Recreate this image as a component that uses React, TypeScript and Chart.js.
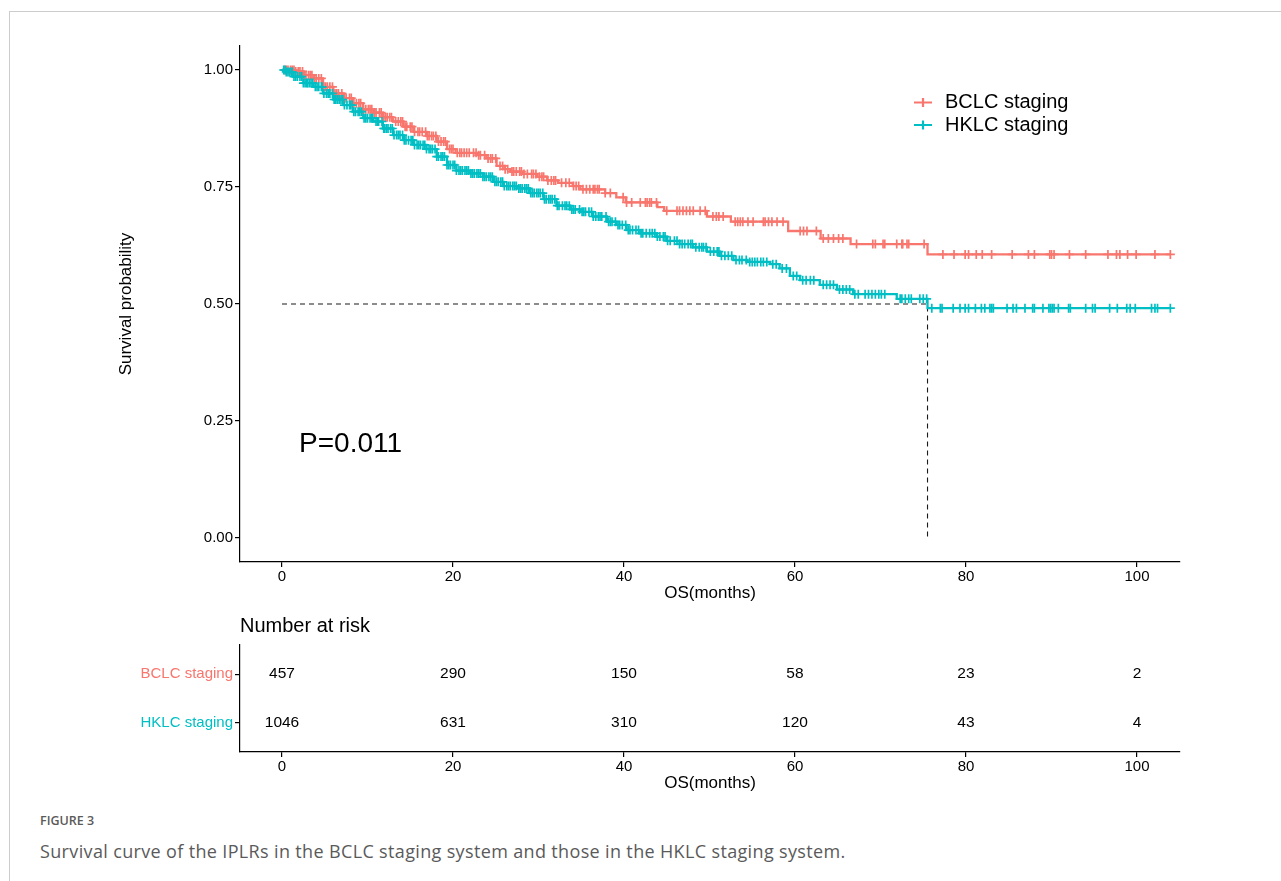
import React, { useEffect, useRef } from "react";
import { Chart, registerables } from "chart.js";

Chart.register(...registerables);

const FONT = '"Liberation Sans", Arial, Helvetica, sans-serif';
const RED = "#F8766D";
const TEAL = "#00BFC4";

// ---------- data ----------
const seriesNames = ["BCLC staging", "HKLC staging"];

const bclcTimes = [0, 1.5, 2.5, 3.7, 4.8, 6.0, 7.2, 8.3, 9.5, 10.7, 11.8, 13.0, 14.2, 15.4, 16.9, 18.1, 19.3, 20.3, 22.8, 23.9, 25.1, 26.0, 26.7, 28.2, 29.8, 31.0, 32.3, 34.0, 34.9, 37.8, 39.1, 40.2, 43.9, 44.7, 49.7, 52.5, 59.2, 63.0, 66.5, 75.5, 103.9];
const bclcSurv = [1.0, 0.997, 0.989, 0.982, 0.964, 0.95, 0.94, 0.929, 0.916, 0.909, 0.899, 0.89, 0.879, 0.868, 0.859, 0.847, 0.831, 0.823, 0.818, 0.811, 0.795, 0.788, 0.783, 0.778, 0.772, 0.764, 0.759, 0.752, 0.745, 0.737, 0.728, 0.717, 0.707, 0.699, 0.687, 0.676, 0.656, 0.64, 0.628, 0.606, 0.606];

const hklcTimes = [0, 0.5, 1.3, 2.5, 3.7, 4.8, 6.0, 7.2, 8.3, 9.5, 10.7, 11.8, 13.0, 14.2, 15.4, 16.9, 18.1, 19.3, 20.4, 22.0, 23.5, 24.7, 25.9, 27.5, 29.0, 30.6, 32.1, 33.7, 34.9, 36.4, 38.0, 39.1, 40.3, 41.9, 43.8, 45.0, 46.5, 48.1, 49.7, 51.2, 52.8, 54.4, 57.1, 58.2, 59.4, 60.6, 62.9, 64.9, 66.8, 71.9, 75.5, 103.9];
const hklcSurv = [1.0, 0.996, 0.986, 0.972, 0.964, 0.95, 0.937, 0.925, 0.911, 0.897, 0.89, 0.875, 0.861, 0.85, 0.84, 0.831, 0.815, 0.797, 0.785, 0.779, 0.772, 0.761, 0.752, 0.747, 0.737, 0.724, 0.71, 0.702, 0.697, 0.687, 0.676, 0.669, 0.658, 0.651, 0.644, 0.635, 0.628, 0.621, 0.612, 0.603, 0.594, 0.59, 0.585, 0.576, 0.56, 0.551, 0.541, 0.531, 0.521, 0.511, 0.491, 0.491];

const bclcCensor = [0.3, 0.5, 0.7, 1.0, 1.2, 1.4, 1.6, 1.9, 2.1, 2.4, 2.6, 2.8, 3.1, 3.3, 3.5, 3.8, 4.0, 4.3, 4.6, 4.9, 5.1, 5.3, 5.6, 5.9, 6.2, 6.4, 6.6, 7.0, 7.3, 7.5, 7.9, 8.1, 8.4, 8.7, 9.0, 9.2, 9.5, 9.8, 10.1, 10.3, 10.5, 10.8, 11.0, 11.4, 11.6, 11.9, 12.1, 12.3, 12.6, 12.8, 13.3, 13.6, 13.9, 14.1, 14.4, 14.6, 15.0, 15.2, 15.5, 15.9, 16.1, 16.4, 16.8, 17.0, 17.2, 17.5, 17.7, 18.0, 18.3, 18.6, 18.9, 19.1, 19.6, 19.8, 20.0, 20.5, 20.8, 21.0, 21.3, 21.6, 21.9, 22.4, 22.7, 23.0, 23.2, 23.7, 24.1, 24.4, 24.6, 25.0, 25.5, 25.8, 26.1, 26.4, 26.9, 27.1, 27.4, 27.8, 28.0, 28.3, 28.7, 29.2, 29.4, 29.7, 30.1, 30.4, 30.6, 31.1, 31.5, 31.8, 32.0, 32.7, 33.2, 33.6, 34.1, 34.4, 34.7, 35.2, 35.6, 36.0, 36.4, 36.6, 36.9, 37.1, 37.8, 38.4, 39.9, 40.3, 40.9, 41.9, 42.5, 42.7, 43.0, 43.2, 43.8, 45.0, 46.2, 46.5, 46.9, 47.3, 47.7, 48.1, 48.9, 49.5, 50.4, 50.8, 51.1, 51.6, 53.0, 53.3, 53.6, 53.9, 54.5, 55.1, 56.3, 56.5, 56.9, 57.3, 57.9, 58.6, 60.6, 61.0, 61.4, 62.5, 63.3, 63.9, 64.5, 65.1, 65.6, 67.2, 69.1, 69.4, 70.3, 70.5, 71.9, 72.5, 72.6, 73.1, 73.3, 75.1, 77.3, 78.6, 79.9, 80.3, 81.2, 81.9, 83.0, 85.4, 87.3, 88.0, 89.8, 90.0, 90.3, 92.1, 94.0, 96.6, 97.6, 98.0, 98.9, 99.9, 102.1, 103.9];

const hklcCensor = [0.2, 0.4, 0.5, 0.7, 0.9, 1.1, 1.2, 1.4, 1.6, 1.8, 2.1, 2.3, 2.5, 2.7, 2.9, 3.0, 3.2, 3.4, 3.6, 3.9, 4.1, 4.3, 4.6, 4.7, 4.9, 5.2, 5.4, 5.6, 5.9, 6.1, 6.3, 6.5, 6.7, 6.9, 7.1, 7.3, 7.6, 7.9, 8.0, 8.2, 8.4, 8.6, 8.9, 9.1, 9.3, 9.6, 9.8, 10.0, 10.3, 10.5, 10.6, 11.0, 11.2, 11.3, 11.7, 11.9, 12.0, 12.2, 12.4, 12.7, 12.9, 13.1, 13.4, 13.6, 13.8, 14.1, 14.3, 14.5, 14.8, 15.1, 15.3, 15.5, 15.8, 16.0, 16.2, 16.5, 16.7, 16.9, 17.2, 17.4, 17.6, 17.9, 18.1, 18.3, 18.6, 18.8, 19.0, 19.3, 19.5, 19.7, 20.0, 20.2, 20.4, 20.7, 20.9, 21.1, 21.4, 21.6, 21.8, 22.1, 22.3, 22.5, 22.8, 23.0, 23.2, 23.5, 23.7, 23.9, 24.2, 24.4, 24.6, 24.9, 25.1, 25.3, 25.6, 25.8, 26.0, 26.3, 26.5, 26.7, 27.0, 27.2, 27.4, 27.7, 27.9, 28.1, 28.4, 28.6, 28.8, 29.1, 29.3, 29.5, 29.8, 30.0, 30.2, 30.5, 30.7, 30.9, 31.2, 31.4, 31.6, 31.9, 32.2, 32.4, 32.8, 33.1, 33.3, 33.6, 33.9, 34.1, 34.3, 34.8, 35.1, 35.3, 35.5, 35.9, 36.2, 36.4, 36.7, 37.0, 37.2, 37.4, 37.9, 38.2, 38.4, 38.6, 39.0, 39.3, 39.5, 39.8, 40.2, 40.5, 40.7, 41.0, 41.4, 41.7, 42.0, 42.2, 42.6, 43.0, 43.3, 43.6, 43.9, 44.2, 44.6, 44.8, 45.1, 45.4, 45.9, 46.2, 46.5, 46.8, 47.1, 47.5, 47.8, 48.0, 48.4, 48.8, 49.1, 49.3, 49.6, 50.1, 50.5, 50.9, 51.1, 51.4, 51.8, 52.2, 52.6, 53.1, 53.5, 53.8, 54.3, 54.7, 55.0, 55.3, 55.6, 56.0, 56.3, 56.7, 57.4, 57.8, 58.5, 59.0, 59.8, 60.2, 60.9, 61.3, 61.8, 62.2, 63.3, 63.7, 64.1, 64.5, 65.2, 65.6, 66.0, 66.4, 67.0, 67.4, 68.2, 68.6, 69.0, 69.4, 69.8, 70.1, 70.5, 72.3, 72.5, 72.9, 73.3, 73.6, 74.6, 75.0, 75.4, 76.0, 77.0, 77.2, 78.5, 79.3, 79.9, 80.3, 81.1, 81.8, 82.2, 82.8, 83.0, 83.2, 84.8, 85.5, 85.9, 86.9, 87.8, 88.0, 89.0, 89.7, 89.9, 90.1, 90.3, 90.8, 92.0, 92.2, 94.0, 94.8, 95.1, 96.8, 97.7, 98.8, 99.2, 99.8, 101.7, 102.1, 102.4, 103.9];

const xTicks = [0, 20, 40, 60, 80, 100];
const yTicks = [0, 0.25, 0.5, 0.75, 1.0];
const riskTimes = [0, 20, 40, 60, 80, 100];
const bclcRisk = [457, 290, 150, 58, 23, 2];
const hklcRisk = [1046, 631, 310, 120, 43, 4];
const medianTime = 75.5;
const medianSurv = 0.5;
const pValueText = "P=0.011";

// ---------- helpers ----------
const X_MIN = -4.912;
const X_MAX = 105.03;

function survAt(times: number[], surv: number[], t: number) {
  let v = surv[0];
  for (let i = 0; i < times.length; i++) {
    if (times[i] <= t) v = surv[i];
    else break;
  }
  return v;
}

const tickFont = { family: FONT, size: 15 };
const titleFont = { family: FONT, size: 17 };

function xScaleOpts() {
  return {
    type: "linear" as const,
    min: X_MIN,
    max: X_MAX,
    afterBuildTicks: (s: any) => {
      s.ticks = xTicks.map((v) => ({ value: v }));
    },
    afterFit: (s: any) => {
      s.height = 48;
    },
    border: { display: true, color: "#000", width: 1.2 },
    grid: { drawOnChartArea: false, drawTicks: true, tickLength: 5, color: "#000", lineWidth: 1.2 },
    ticks: { font: tickFont, color: "#000", padding: 1, maxRotation: 0, autoSkip: false, callback: (v: any) => String(v) },
    title: { display: true, text: "OS(months)", font: titleFont, color: "#000", padding: { top: 0, bottom: 6.8 } },
  };
}

const mainOverlay = {
  id: "mainOverlay",
  afterDraw(chart: any) {
    const { ctx } = chart;
    const x = chart.scales.x;
    const y = chart.scales.y;
    ctx.save();
    ctx.fillStyle = "#000";
    ctx.textAlign = "left";
    ctx.textBaseline = "middle";
    ctx.font = `28px ${FONT}`;
    ctx.fillText(pValueText, x.getPixelForValue(2), y.getPixelForValue(0.2));
    // legend
    const colors = [RED, TEAL];
    const rows = [102.5, 125];
    seriesNames.forEach((name, i) => {
      const cy = rows[i];
      ctx.strokeStyle = colors[i];
      ctx.lineWidth = 2.2;
      ctx.beginPath();
      ctx.moveTo(914, cy);
      ctx.lineTo(932, cy);
      ctx.moveTo(923, cy - 4.5);
      ctx.lineTo(923, cy + 4.5);
      ctx.stroke();
      ctx.fillStyle = "#000";
      ctx.font = `20px ${FONT}`;
      ctx.fillText(name, 945, cy);
    });
    ctx.restore();
  },
};

const tableOverlay = {
  id: "tableOverlay",
  afterDraw(chart: any) {
    const { ctx, chartArea } = chart;
    ctx.save();
    ctx.fillStyle = "#000";
    ctx.textBaseline = "middle";
    ctx.textAlign = "left";
    ctx.font = `20px ${FONT}`;
    ctx.fillText("Number at risk", chartArea.left, chartArea.top - 19);
    ctx.textAlign = "center";
    ctx.font = `15.5px ${FONT}`;
    chart.data.datasets.forEach((ds: any, di: number) => {
      const meta = chart.getDatasetMeta(di);
      meta.data.forEach((pt: any, i: number) => {
        ctx.fillText(String(ds.data[i].n), pt.x, pt.y);
      });
    });
    ctx.restore();
  },
};

export default function App() {
  const mainRef = useRef<HTMLCanvasElement>(null);
  const tableRef = useRef<HTMLCanvasElement>(null);

  useEffect(() => {
    const lineDs = (label: string, times: number[], surv: number[], color: string, order: number) => ({
      label,
      data: times.map((t, i) => ({ x: t, y: surv[i] })),
      borderColor: color,
      backgroundColor: color,
      borderWidth: 2.3,
      stepped: "before" as const,
      pointRadius: 0,
      fill: false,
      order,
    });
    const censorDs = (label: string, cens: number[], times: number[], surv: number[], color: string, order: number) => ({
      label,
      data: cens.map((t) => ({ x: t, y: survAt(times, surv, t) })),
      showLine: false,
      pointStyle: "cross" as const,
      pointRadius: 4.5,
      pointBorderWidth: 1.7,
      borderColor: color,
      backgroundColor: color,
      pointBorderColor: color,
      order,
    });

    const main = new Chart(mainRef.current!, {
      type: "line",
      data: {
        datasets: [
          censorDs("HKLC censor", hklcCensor, hklcTimes, hklcSurv, TEAL, 0),
          censorDs("BCLC censor", bclcCensor, bclcTimes, bclcSurv, RED, 1),
          lineDs(seriesNames[1], hklcTimes, hklcSurv, TEAL, 2),
          lineDs(seriesNames[0], bclcTimes, bclcSurv, RED, 3),
          {
            label: "median",
            data: [
              { x: 0, y: medianSurv },
              { x: medianTime, y: medianSurv },
              { x: medianTime, y: 0 },
            ],
            borderColor: "#1a1a1a",
            borderWidth: 1.1,
            borderDash: [5, 4],
            pointRadius: 0,
            fill: false,
            order: 4,
          } as any,
        ],
      },
      options: {
        responsive: false,
        animation: false,
        events: [],
        layout: { padding: { left: 0, top: 46, right: 101, bottom: 0 } },
        plugins: { legend: { display: false }, tooltip: { enabled: false } },
        scales: {
          x: xScaleOpts() as any,
          y: {
            type: "linear",
            min: -0.0513,
            max: 1.0513,
            afterBuildTicks: (s: any) => {
              s.ticks = yTicks.map((v) => ({ value: v }));
            },
            afterFit: (s: any) => {
              s.width = 240;
            },
            border: { display: true, color: "#000", width: 1.2 },
            grid: { drawOnChartArea: false, drawTicks: true, tickLength: 5, color: "#000", lineWidth: 1.2 },
            ticks: { font: tickFont, color: "#000", padding: 2, callback: (v: any) => Number(v).toFixed(2) },
            title: { display: true, text: "Survival probability", font: titleFont, color: "#000", padding: { top: 115.8, bottom: 0 } },
          } as any,
        },
      },
      plugins: [mainOverlay],
    });

    const table = new Chart(tableRef.current!, {
      type: "line",
      data: {
        datasets: [
          { label: seriesNames[0], data: riskTimes.map((t, i) => ({ x: t, y: 2, n: bclcRisk[i] })), showLine: false, pointRadius: 0 } as any,
          { label: seriesNames[1], data: riskTimes.map((t, i) => ({ x: t, y: 1, n: hklcRisk[i] })), showLine: false, pointRadius: 0 } as any,
        ],
      },
      options: {
        responsive: false,
        animation: false,
        events: [],
        layout: { padding: { left: 0, top: 45, right: 101, bottom: 0 } },
        plugins: { legend: { display: false }, tooltip: { enabled: false } },
        scales: {
          x: xScaleOpts() as any,
          y: {
            type: "linear",
            min: 0.4,
            max: 2.6,
            afterBuildTicks: (s: any) => {
              s.ticks = [1, 2].map((v) => ({ value: v }));
            },
            afterFit: (s: any) => {
              s.width = 240;
            },
            border: { display: true, color: "#000", width: 1.2 },
            grid: { drawOnChartArea: false, drawTicks: true, tickLength: 5, color: "#000", lineWidth: 1.2 },
            ticks: {
              font: tickFont,
              padding: 2,
              color: (c: any) => (c.tick && c.tick.value === 2 ? RED : TEAL),
              callback: (v: any) => seriesNames[2 - Number(v)],
            },
          } as any,
        },
      },
      plugins: [tableOverlay],
    });

    return () => {
      main.destroy();
      table.destroy();
    };
  }, []);

  return (
    <div style={{ position: "fixed", left: 0, top: 0, width: 1281, height: 881, overflow: "hidden", background: "#fff" }}>
      <div style={{ position: "absolute", left: 9, top: 11, width: 1400, height: 1000, border: "1px solid #cccccc" }} />
      <canvas ref={mainRef} width={1281} height={610} style={{ position: "absolute", left: 0, top: 0 }} />
      <canvas ref={tableRef} width={1281} height={200} style={{ position: "absolute", left: 0, top: 600 }} />
      <div style={{ position: "absolute", left: 40, top: 813, fontFamily: "'Open Sans', sans-serif", fontWeight: 600, fontSize: 12.5, lineHeight: "16px", color: "#5a5a5a" }}>
        FIGURE 3
      </div>
      <div style={{ position: "absolute", left: 40, top: 839, fontFamily: "'Open Sans', sans-serif", fontSize: 18, lineHeight: "24px", color: "#5a5a5a", whiteSpace: "nowrap", letterSpacing: 0.35 }}>
        Survival curve of the IPLRs in the BCLC staging system and those in the HKLC staging system.
      </div>
    </div>
  );
}
